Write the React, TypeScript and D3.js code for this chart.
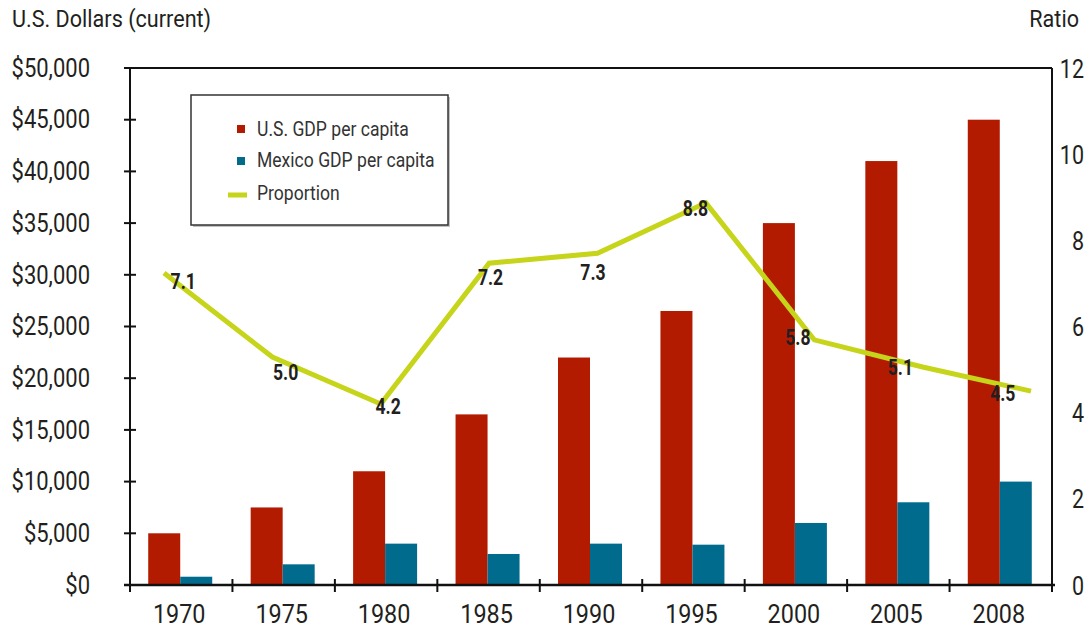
import React from "react";
import * as d3 from "d3";

const years = ["1970", "1975", "1980", "1985", "1990", "1995", "2000", "2005", "2008"];
const usGdp = [5000, 7500, 11000, 16500, 22000, 26500, 35000, 41000, 45000];
const mexicoGdp = [800, 2000, 4000, 3000, 4000, 3900, 6000, 8000, 10000];
const proportion = [7.24, 5.29, 4.2, 7.47, 7.7, 8.87, 5.69, 5.06, 4.5];
const proportionLabels = ["7.1", "5.0", "4.2", "7.2", "7.3", "8.8", "5.8", "5.1", "4.5"];
const leftTicks = [0, 5000, 10000, 15000, 20000, 25000, 30000, 35000, 40000, 45000, 50000];
const rightTicks = [0, 2, 4, 6, 8, 10, 12];
const seriesNames = ["U.S. GDP per capita", "Mexico GDP per capita", "Proportion"];

const W = 1091;
const H = 629;
const M = { left: 130, right: 39, top: 68, bottom: 44 };
const FONT = "Roboto, 'Liberation Sans', sans-serif";
const RED = "#b31b00";
const BLUE = "#006b8d";
const GREEN = "#c6d41a";
const INK = "#231f20";

type TProps = {
  x: number;
  y: number;
  sx?: number;
  size: number;
  anchor?: "start" | "middle" | "end";
  weight?: string;
  fill?: string;
  dy?: string;
  children: React.ReactNode;
};

function T({ x, y, sx = 0.85, size, anchor = "start", weight = "normal", fill = INK, dy, children }: TProps) {
  return (
    <text
      transform={`translate(${x},${y}) scale(${sx},1)`}
      fontSize={size}
      textAnchor={anchor}
      fontWeight={weight}
      fill={fill}
      dy={dy}
    >
      {children}
    </text>
  );
}

export default function App() {
  const innerW = W - M.left - M.right;
  const innerH = H - M.top - M.bottom;
  const x0 = M.left;
  const x1 = M.left + innerW;
  const yTop = M.top;
  const yBot = M.top + innerH;

  const xBand = d3.scaleBand<string>().domain(years).range([x0, x1]).paddingInner(0).paddingOuter(0);
  const groupW = 64;
  const xSub = d3.scaleBand<string>().domain(["us", "mx"]).range([0, groupW]);
  const yL = d3.scaleLinear().domain([0, 50000]).range([yBot, yTop]);
  const yR = d3.scaleLinear().domain([0, 12]).range([yBot, yTop]);
  const xPoint = d3.scalePoint<string>().domain(years).range([x0 + 34, x1 - 21]);

  const line = d3
    .line<number>()
    .x((_, i) => xPoint(years[i]) as number)
    .y((d) => yR(d))
    .curve(d3.curveLinear);

  const fmt = (v: number) => "$" + d3.format(",")(v);
  const bw = xBand.bandwidth();

  const boundaries = years.map((y) => xBand(y) as number).concat([x1]);

  return (
    <svg
      width={W}
      height={H}
      style={{ position: "absolute", left: 0, top: 0, background: "#fff" }}
      fontFamily={FONT}
    >
      <rect x={0} y={0} width={W} height={H} fill="#fff" />
      {/* titles */}
      <T x={12} y={27} size={24} sx={0.9}>
        U.S. Dollars (current)
      </T>
      <T x={1079} y={27} size={24} sx={0.9} anchor="end">
        Ratio
      </T>

      {/* bars */}
      {years.map((yr, i) => {
        const gx = (xBand(yr) as number) + (bw - groupW) / 2 - 1;
        return (
          <g key={yr}>
            <rect
              x={gx + (xSub("us") as number)}
              y={yL(usGdp[i])}
              width={xSub.bandwidth()}
              height={yBot - yL(usGdp[i])}
              fill={RED}
            />
            <rect
              x={gx + (xSub("mx") as number)}
              y={yL(mexicoGdp[i])}
              width={xSub.bandwidth()}
              height={yBot - yL(mexicoGdp[i])}
              fill={BLUE}
            />
          </g>
        );
      })}

      {/* frame */}
      <line x1={x0} x2={x1} y1={yTop} y2={yTop} stroke="#111" strokeWidth={2} />
      <line x1={x0} x2={x0} y1={yTop} y2={yBot} stroke="#111" strokeWidth={2} />
      <line x1={x1} x2={x1} y1={yTop} y2={yBot} stroke="#111" strokeWidth={2} />
      <line x1={x0 - 6} x2={x1 + 3} y1={yBot} y2={yBot} stroke="#111" strokeWidth={2.5} />

      {/* left ticks */}
      {leftTicks.map((t) => (
        <g key={t}>
          <line x1={x0 - 6} x2={x0 + 6} y1={yL(t)} y2={yL(t)} stroke="#111" strokeWidth={2} />
          <T x={90} y={yL(t)} dy="0.35em" size={25} sx={0.88} anchor="end">
            {fmt(t)}
          </T>
        </g>
      ))}
      {/* right ticks */}
      {rightTicks.map((t) => (
        <T key={t} x={1084} y={yR(t)} dy="0.38em" size={25} sx={0.86} anchor="end">
          {t}
        </T>
      ))}

      {/* x ticks */}
      {boundaries.map((bx, i) => (
        <line key={i} x1={bx} x2={bx} y1={yBot - 6} y2={yBot + 7} stroke="#111" strokeWidth={2} />
      ))}
      {years.map((yr) => (
        <T key={yr} x={(xBand(yr) as number) + bw / 2 - 2} y={623} size={26} sx={0.9} anchor="middle">
          {yr}
        </T>
      ))}

      {/* proportion line */}
      <path d={line(proportion) || ""} fill="none" stroke={GREEN} strokeWidth={5} strokeLinejoin="miter" />
      {proportionLabels.map((lab, i) => (
        <T
          key={i}
          x={(xBand(years[i]) as number) + bw / 2 + 2}
          y={yR(+lab) + 2}
          dy="0.36em"
          size={22}
          sx={0.8}
          weight="bold"
          anchor="middle"
        >
          {lab}
        </T>
      ))}

      {/* legend */}
      <rect x={193} y={97} width={257} height={130} fill="#999" opacity={0.6} />
      <rect x={191} y={95} width={257} height={130} fill="#fff" stroke="#333" strokeWidth={1.5} />
      <rect x={237} y={125} width={8} height={8} fill={RED} />
      <T x={257} y={136} size={19.5} sx={0.9} fill="#333">
        {seriesNames[0]}
      </T>
      <rect x={237} y={157} width={8} height={8} fill={BLUE} />
      <T x={257} y={167} size={19.5} sx={0.9} fill="#333">
        {seriesNames[1]}
      </T>
      <line x1={228} x2={247} y1={195} y2={195} stroke={GREEN} strokeWidth={5} />
      <T x={257} y={200} size={19.5} sx={0.9} fill="#333">
        {seriesNames[2]}
      </T>
    </svg>
  );
}
